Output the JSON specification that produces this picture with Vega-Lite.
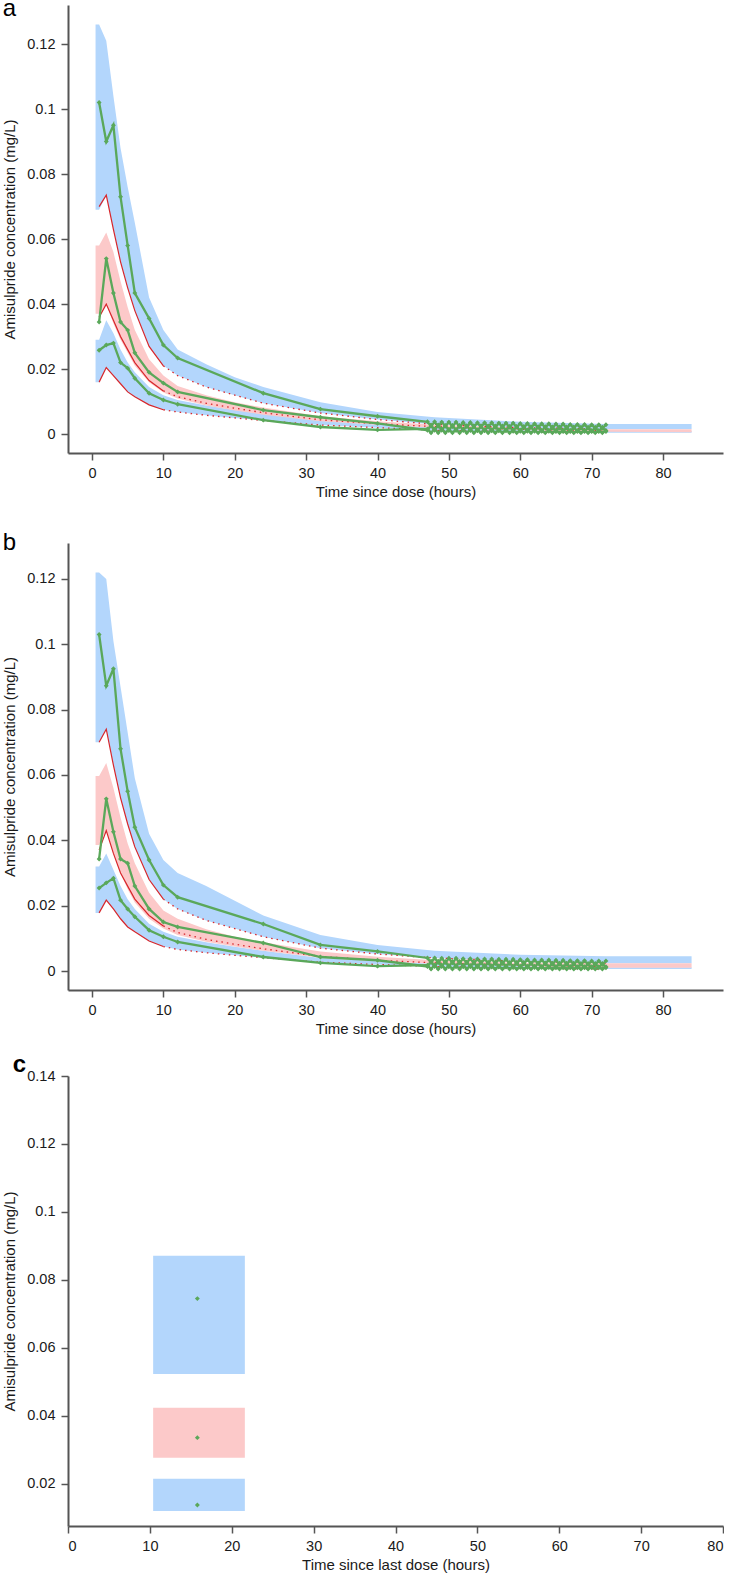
{
"$schema": "https://vega.github.io/schema/vega-lite/v6.json",
"background": "white",
"padding": {"left": 2, "top": -3, "right": 0, "bottom": 0},
"autosize": {"type": "pad"},
"config": {
  "view": {"stroke": null},
  "font": "Liberation Sans",
  "axis": {"grid": false, "domainColor": "#555555", "domainWidth": 2, "tickColor": "#555555", "tickWidth": 1.5, "tickSize": 7, "labelFont": "Liberation Sans", "labelFontSize": 14.5, "labelColor": "#1a1a1a", "labelPadding": 6, "titleFont": "Liberation Sans", "titleFontSize": 15, "titleFontWeight": "normal", "titleColor": "#1a1a1a"},
  "axisY": {"titlePadding": 9},
  "axisX": {"titlePadding": 5},
  "title": {"font": "Liberation Sans", "fontSize": 24, "fontWeight": "normal", "anchor": "start", "frame": "bounds", "color": "#000000"}
},
"datasets": {
  "bands_a": [
    {"t":0.5,"band":"upper","v":0.069,"v2":0.126},{"t":1,"band":"upper","v":0.069,"v2":0.126},{"t":2,"band":"upper","v":0.0735,"v2":0.121},{"t":3,"band":"upper","v":0.063,"v2":0.104},{"t":4,"band":"upper","v":0.053,"v2":0.088},{"t":5,"band":"upper","v":0.045,"v2":0.076},{"t":6,"band":"upper","v":0.038,"v2":0.065},{"t":8,"band":"upper","v":0.027,"v2":0.042},{"t":10,"band":"upper","v":0.021,"v2":0.032},{"t":12,"band":"upper","v":0.018,"v2":0.026},{"t":16,"band":"upper","v":0.0145,"v2":0.0215},{"t":20,"band":"upper","v":0.012,"v2":0.0175},{"t":24,"band":"upper","v":0.0095,"v2":0.0145},{"t":32,"band":"upper","v":0.0065,"v2":0.0098},{"t":40,"band":"upper","v":0.0045,"v2":0.0068},{"t":48,"band":"upper","v":0.003,"v2":0.0052},{"t":60,"band":"upper","v":0.002,"v2":0.0038},{"t":72,"band":"upper","v":0.0016,"v2":0.0031},{"t":84,"band":"upper","v":0.0016,"v2":0.0031},
    {"t":0.5,"band":"median","v":0.037,"v2":0.058},{"t":1,"band":"median","v":0.037,"v2":0.058},{"t":2,"band":"median","v":0.04,"v2":0.062},{"t":3,"band":"median","v":0.034,"v2":0.056},{"t":4,"band":"median","v":0.029,"v2":0.047},{"t":5,"band":"median","v":0.025,"v2":0.039},{"t":6,"band":"median","v":0.021,"v2":0.032},{"t":8,"band":"median","v":0.016,"v2":0.023},{"t":10,"band":"median","v":0.0128,"v2":0.018},{"t":12,"band":"median","v":0.011,"v2":0.0148},{"t":16,"band":"median","v":0.0088,"v2":0.012},{"t":20,"band":"median","v":0.0073,"v2":0.0098},{"t":24,"band":"median","v":0.006,"v2":0.0082},{"t":32,"band":"median","v":0.004,"v2":0.0055},{"t":40,"band":"median","v":0.0029,"v2":0.004},{"t":48,"band":"median","v":0.002,"v2":0.0029},{"t":60,"band":"median","v":0.0012,"v2":0.002},{"t":72,"band":"median","v":0.0007,"v2":0.0015},{"t":84,"band":"median","v":0.0006,"v2":0.0015},
    {"t":0.5,"band":"lower","v":0.016,"v2":0.029},{"t":1,"band":"lower","v":0.016,"v2":0.029},{"t":2,"band":"lower","v":0.0205,"v2":0.035},{"t":3,"band":"lower","v":0.018,"v2":0.031},{"t":4,"band":"lower","v":0.0155,"v2":0.026},{"t":5,"band":"lower","v":0.013,"v2":0.022},{"t":6,"band":"lower","v":0.0115,"v2":0.019},{"t":8,"band":"lower","v":0.009,"v2":0.0145},{"t":10,"band":"lower","v":0.0075,"v2":0.012},{"t":12,"band":"lower","v":0.0068,"v2":0.0105},{"t":16,"band":"lower","v":0.0058,"v2":0.0088},{"t":20,"band":"lower","v":0.005,"v2":0.0074},{"t":24,"band":"lower","v":0.0042,"v2":0.0062},{"t":32,"band":"lower","v":0.0028,"v2":0.0041},{"t":40,"band":"lower","v":0.002,"v2":0.003},{"t":48,"band":"lower","v":0.001,"v2":0.002},{"t":60,"band":"lower","v":0.0006,"v2":0.0014},{"t":72,"band":"lower","v":0.0004,"v2":0.001},{"t":84,"band":"lower","v":0.0004,"v2":0.001}
  ],
  "sim_a": [
    {"t":1,"pct":"p95","v":0.07},{"t":2,"pct":"p95","v":0.0735},{"t":3,"pct":"p95","v":0.063},{"t":4,"pct":"p95","v":0.053},{"t":5,"pct":"p95","v":0.045},{"t":6,"pct":"p95","v":0.038},{"t":8,"pct":"p95","v":0.027},{"t":10,"pct":"p95","v":0.021},{"t":12,"pct":"p95","v":0.018},{"t":16,"pct":"p95","v":0.0145},{"t":20,"pct":"p95","v":0.012},{"t":24,"pct":"p95","v":0.0095},{"t":32,"pct":"p95","v":0.0065},{"t":40,"pct":"p95","v":0.0045},{"t":48,"pct":"p95","v":0.003},{"t":60,"pct":"p95","v":0.002},{"t":72,"pct":"p95","v":0.0016},
    {"t":1,"pct":"p50","v":0.036},{"t":2,"pct":"p50","v":0.04},{"t":3,"pct":"p50","v":0.035},{"t":4,"pct":"p50","v":0.03},{"t":5,"pct":"p50","v":0.026},{"t":6,"pct":"p50","v":0.022},{"t":8,"pct":"p50","v":0.0165},{"t":10,"pct":"p50","v":0.0133},{"t":12,"pct":"p50","v":0.0115},{"t":16,"pct":"p50","v":0.0095},{"t":20,"pct":"p50","v":0.008},{"t":24,"pct":"p50","v":0.0066},{"t":32,"pct":"p50","v":0.0044},{"t":40,"pct":"p50","v":0.0032},{"t":48,"pct":"p50","v":0.0023},{"t":60,"pct":"p50","v":0.0015},{"t":72,"pct":"p50","v":0.0011},
    {"t":1,"pct":"p05","v":0.016},{"t":2,"pct":"p05","v":0.0205},{"t":3,"pct":"p05","v":0.018},{"t":4,"pct":"p05","v":0.0155},{"t":5,"pct":"p05","v":0.013},{"t":6,"pct":"p05","v":0.0115},{"t":8,"pct":"p05","v":0.009},{"t":10,"pct":"p05","v":0.0075},{"t":12,"pct":"p05","v":0.0068},{"t":16,"pct":"p05","v":0.0058},{"t":20,"pct":"p05","v":0.005},{"t":24,"pct":"p05","v":0.0042},{"t":32,"pct":"p05","v":0.0028},{"t":40,"pct":"p05","v":0.002},{"t":48,"pct":"p05","v":0.0012},{"t":60,"pct":"p05","v":0.0007},{"t":72,"pct":"p05","v":0.0005}
  ],
  "obs_a": [
    {"t":1,"pct":"p95","v":0.102},{"t":2,"pct":"p95","v":0.09},{"t":3,"pct":"p95","v":0.095},{"t":4,"pct":"p95","v":0.073},{"t":5,"pct":"p95","v":0.058},{"t":6,"pct":"p95","v":0.0434},{"t":8,"pct":"p95","v":0.0356},{"t":10,"pct":"p95","v":0.0274},{"t":12,"pct":"p95","v":0.0234},{"t":24,"pct":"p95","v":0.0126},{"t":32,"pct":"p95","v":0.0077},{"t":40,"pct":"p95","v":0.0055},
    {"t":47,"pct":"p95","v":0.0038},{"t":47.5,"pct":"p95","v":0.0024},{"t":48,"pct":"p95","v":0.0038},{"t":48.5,"pct":"p95","v":0.0024},{"t":49,"pct":"p95","v":0.0037},{"t":49.5,"pct":"p95","v":0.0024},{"t":50,"pct":"p95","v":0.0037},{"t":50.5,"pct":"p95","v":0.0023},{"t":51,"pct":"p95","v":0.0037},{"t":51.5,"pct":"p95","v":0.0023},{"t":52,"pct":"p95","v":0.0036},{"t":52.5,"pct":"p95","v":0.0023},{"t":53,"pct":"p95","v":0.0036},{"t":53.5,"pct":"p95","v":0.0022},{"t":54,"pct":"p95","v":0.0035},{"t":54.5,"pct":"p95","v":0.0022},{"t":55,"pct":"p95","v":0.0035},{"t":55.5,"pct":"p95","v":0.0022},{"t":56,"pct":"p95","v":0.0035},{"t":56.5,"pct":"p95","v":0.0021},{"t":57,"pct":"p95","v":0.0034},{"t":57.5,"pct":"p95","v":0.0021},{"t":58,"pct":"p95","v":0.0034},{"t":58.5,"pct":"p95","v":0.0021},{"t":59,"pct":"p95","v":0.0034},{"t":59.5,"pct":"p95","v":0.0021},{"t":60,"pct":"p95","v":0.0033},{"t":60.5,"pct":"p95","v":0.002},{"t":61,"pct":"p95","v":0.0033},{"t":61.5,"pct":"p95","v":0.002},{"t":62,"pct":"p95","v":0.0032},{"t":62.5,"pct":"p95","v":0.002},{"t":63,"pct":"p95","v":0.0032},{"t":63.5,"pct":"p95","v":0.002},{"t":64,"pct":"p95","v":0.0032},{"t":64.5,"pct":"p95","v":0.0019},{"t":65,"pct":"p95","v":0.0031},{"t":65.5,"pct":"p95","v":0.0019},{"t":66,"pct":"p95","v":0.0031},{"t":66.5,"pct":"p95","v":0.0019},{"t":67,"pct":"p95","v":0.003},{"t":67.5,"pct":"p95","v":0.0019},{"t":68,"pct":"p95","v":0.003},{"t":68.5,"pct":"p95","v":0.0018},{"t":69,"pct":"p95","v":0.003},{"t":69.5,"pct":"p95","v":0.0018},{"t":70,"pct":"p95","v":0.0029},{"t":70.5,"pct":"p95","v":0.0018},{"t":71,"pct":"p95","v":0.0029},{"t":71.5,"pct":"p95","v":0.0018},{"t":72,"pct":"p95","v":0.0029},
    {"t":1,"pct":"p50","v":0.0345},{"t":2,"pct":"p50","v":0.054},{"t":3,"pct":"p50","v":0.0434},{"t":4,"pct":"p50","v":0.0345},{"t":5,"pct":"p50","v":0.032},{"t":6,"pct":"p50","v":0.025},{"t":8,"pct":"p50","v":0.019},{"t":10,"pct":"p50","v":0.0157},{"t":12,"pct":"p50","v":0.013},{"t":24,"pct":"p50","v":0.0074},{"t":32,"pct":"p50","v":0.0052},{"t":40,"pct":"p50","v":0.0033},
    {"t":47,"pct":"p50","v":0.0012},{"t":47.5,"pct":"p50","v":0.0028},{"t":48,"pct":"p50","v":0.0012},{"t":48.5,"pct":"p50","v":0.0028},{"t":49,"pct":"p50","v":0.0012},{"t":49.5,"pct":"p50","v":0.0027},{"t":50,"pct":"p50","v":0.0011},{"t":50.5,"pct":"p50","v":0.0027},{"t":51,"pct":"p50","v":0.0011},{"t":51.5,"pct":"p50","v":0.0027},{"t":52,"pct":"p50","v":0.0011},{"t":52.5,"pct":"p50","v":0.0026},{"t":53,"pct":"p50","v":0.0011},{"t":53.5,"pct":"p50","v":0.0026},{"t":54,"pct":"p50","v":0.001},{"t":54.5,"pct":"p50","v":0.0026},{"t":55,"pct":"p50","v":0.001},{"t":55.5,"pct":"p50","v":0.0025},{"t":56,"pct":"p50","v":0.001},{"t":56.5,"pct":"p50","v":0.0025},{"t":57,"pct":"p50","v":0.001},{"t":57.5,"pct":"p50","v":0.0025},{"t":58,"pct":"p50","v":0.001},{"t":58.5,"pct":"p50","v":0.0024},{"t":59,"pct":"p50","v":0.0009},{"t":59.5,"pct":"p50","v":0.0024},{"t":60,"pct":"p50","v":0.0009},{"t":60.5,"pct":"p50","v":0.0024},{"t":61,"pct":"p50","v":0.0009},{"t":61.5,"pct":"p50","v":0.0023},{"t":62,"pct":"p50","v":0.0009},{"t":62.5,"pct":"p50","v":0.0023},{"t":63,"pct":"p50","v":0.0009},{"t":63.5,"pct":"p50","v":0.0023},{"t":64,"pct":"p50","v":0.0009},{"t":64.5,"pct":"p50","v":0.0022},{"t":65,"pct":"p50","v":0.0008},{"t":65.5,"pct":"p50","v":0.0022},{"t":66,"pct":"p50","v":0.0008},{"t":66.5,"pct":"p50","v":0.0022},{"t":67,"pct":"p50","v":0.0008},{"t":67.5,"pct":"p50","v":0.0022},{"t":68,"pct":"p50","v":0.0008},{"t":68.5,"pct":"p50","v":0.0021},{"t":69,"pct":"p50","v":0.0008},{"t":69.5,"pct":"p50","v":0.0021},{"t":70,"pct":"p50","v":0.0008},{"t":70.5,"pct":"p50","v":0.0021},{"t":71,"pct":"p50","v":0.0008},{"t":71.5,"pct":"p50","v":0.0021},{"t":72,"pct":"p50","v":0.0008},
    {"t":1,"pct":"p05","v":0.0258},{"t":2,"pct":"p05","v":0.0274},{"t":3,"pct":"p05","v":0.028},{"t":4,"pct":"p05","v":0.022},{"t":5,"pct":"p05","v":0.0203},{"t":6,"pct":"p05","v":0.0172},{"t":8,"pct":"p05","v":0.0126},{"t":10,"pct":"p05","v":0.0105},{"t":12,"pct":"p05","v":0.0092},{"t":24,"pct":"p05","v":0.0043},{"t":32,"pct":"p05","v":0.0022},{"t":40,"pct":"p05","v":0.0013},
    {"t":47,"pct":"p05","v":0.0016},{"t":47.5,"pct":"p05","v":0.0004},{"t":48,"pct":"p05","v":0.0016},{"t":48.5,"pct":"p05","v":0.0004},{"t":49,"pct":"p05","v":0.0016},{"t":49.5,"pct":"p05","v":0.0004},{"t":50,"pct":"p05","v":0.0015},{"t":50.5,"pct":"p05","v":0.0004},{"t":51,"pct":"p05","v":0.0015},{"t":51.5,"pct":"p05","v":0.0004},{"t":52,"pct":"p05","v":0.0015},{"t":52.5,"pct":"p05","v":0.0004},{"t":53,"pct":"p05","v":0.0015},{"t":53.5,"pct":"p05","v":0.0004},{"t":54,"pct":"p05","v":0.0014},{"t":54.5,"pct":"p05","v":0.0004},{"t":55,"pct":"p05","v":0.0014},{"t":55.5,"pct":"p05","v":0.0004},{"t":56,"pct":"p05","v":0.0014},{"t":56.5,"pct":"p05","v":0.0004},{"t":57,"pct":"p05","v":0.0014},{"t":57.5,"pct":"p05","v":0.0004},{"t":58,"pct":"p05","v":0.0014},{"t":58.5,"pct":"p05","v":0.0004},{"t":59,"pct":"p05","v":0.0013},{"t":59.5,"pct":"p05","v":0.0004},{"t":60,"pct":"p05","v":0.0013},{"t":60.5,"pct":"p05","v":0.0004},{"t":61,"pct":"p05","v":0.0013},{"t":61.5,"pct":"p05","v":0.0004},{"t":62,"pct":"p05","v":0.0013},{"t":62.5,"pct":"p05","v":0.0004},{"t":63,"pct":"p05","v":0.0012},{"t":63.5,"pct":"p05","v":0.0004},{"t":64,"pct":"p05","v":0.0012},{"t":64.5,"pct":"p05","v":0.0004},{"t":65,"pct":"p05","v":0.0012},{"t":65.5,"pct":"p05","v":0.0004},{"t":66,"pct":"p05","v":0.0012},{"t":66.5,"pct":"p05","v":0.0004},{"t":67,"pct":"p05","v":0.0012},{"t":67.5,"pct":"p05","v":0.0004},{"t":68,"pct":"p05","v":0.0011},{"t":68.5,"pct":"p05","v":0.0004},{"t":69,"pct":"p05","v":0.0011},{"t":69.5,"pct":"p05","v":0.0004},{"t":70,"pct":"p05","v":0.0011},{"t":70.5,"pct":"p05","v":0.0004},{"t":71,"pct":"p05","v":0.0011},{"t":71.5,"pct":"p05","v":0.0004},{"t":72,"pct":"p05","v":0.0011}
  ],
  "bands_b": [
    {"t":0.5,"band":"upper","v":0.07,"v2":0.122},{"t":1,"band":"upper","v":0.07,"v2":0.122},{"t":2,"band":"upper","v":0.074,"v2":0.12},{"t":3,"band":"upper","v":0.063,"v2":0.101},{"t":4,"band":"upper","v":0.053,"v2":0.087},{"t":5,"band":"upper","v":0.045,"v2":0.073},{"t":6,"band":"upper","v":0.038,"v2":0.059},{"t":8,"band":"upper","v":0.028,"v2":0.042},{"t":10,"band":"upper","v":0.022,"v2":0.034},{"t":12,"band":"upper","v":0.019,"v2":0.03},{"t":16,"band":"upper","v":0.0155,"v2":0.026},{"t":20,"band":"upper","v":0.013,"v2":0.0215},{"t":24,"band":"upper","v":0.0105,"v2":0.017},{"t":32,"band":"upper","v":0.007,"v2":0.011},{"t":40,"band":"upper","v":0.0052,"v2":0.008},{"t":48,"band":"upper","v":0.004,"v2":0.0062},{"t":60,"band":"upper","v":0.003,"v2":0.005},{"t":72,"band":"upper","v":0.0024,"v2":0.0045},{"t":84,"band":"upper","v":0.0024,"v2":0.0045},
    {"t":0.5,"band":"median","v":0.0386,"v2":0.0597},{"t":1,"band":"median","v":0.0386,"v2":0.0597},{"t":2,"band":"median","v":0.043,"v2":0.0637},{"t":3,"band":"median","v":0.036,"v2":0.056},{"t":4,"band":"median","v":0.03,"v2":0.047},{"t":5,"band":"median","v":0.025,"v2":0.039},{"t":6,"band":"median","v":0.021,"v2":0.033},{"t":8,"band":"median","v":0.016,"v2":0.024},{"t":10,"band":"median","v":0.013,"v2":0.0185},{"t":12,"band":"median","v":0.011,"v2":0.016},{"t":16,"band":"median","v":0.009,"v2":0.0128},{"t":20,"band":"median","v":0.0075,"v2":0.0105},{"t":24,"band":"median","v":0.0062,"v2":0.0088},{"t":32,"band":"median","v":0.0041,"v2":0.006},{"t":40,"band":"median","v":0.003,"v2":0.0044},{"t":48,"band":"median","v":0.0022,"v2":0.0033},{"t":60,"band":"median","v":0.0015,"v2":0.0025},{"t":72,"band":"median","v":0.001,"v2":0.0024},{"t":84,"band":"median","v":0.001,"v2":0.0024},
    {"t":0.5,"band":"lower","v":0.0178,"v2":0.032},{"t":1,"band":"lower","v":0.0178,"v2":0.032},{"t":2,"band":"lower","v":0.0217,"v2":0.036},{"t":3,"band":"lower","v":0.019,"v2":0.031},{"t":4,"band":"lower","v":0.016,"v2":0.026},{"t":5,"band":"lower","v":0.0135,"v2":0.022},{"t":6,"band":"lower","v":0.012,"v2":0.019},{"t":8,"band":"lower","v":0.0092,"v2":0.0145},{"t":10,"band":"lower","v":0.0075,"v2":0.012},{"t":12,"band":"lower","v":0.0066,"v2":0.0105},{"t":16,"band":"lower","v":0.0056,"v2":0.0088},{"t":20,"band":"lower","v":0.0048,"v2":0.0074},{"t":24,"band":"lower","v":0.0041,"v2":0.0062},{"t":32,"band":"lower","v":0.0027,"v2":0.004},{"t":40,"band":"lower","v":0.002,"v2":0.003},{"t":48,"band":"lower","v":0.0014,"v2":0.0022},{"t":60,"band":"lower","v":0.0009,"v2":0.0016},{"t":72,"band":"lower","v":0.0006,"v2":0.0012},{"t":84,"band":"lower","v":0.0006,"v2":0.0012}
  ],
  "sim_b": [
    {"t":1,"pct":"p95","v":0.07},{"t":2,"pct":"p95","v":0.074},{"t":3,"pct":"p95","v":0.063},{"t":4,"pct":"p95","v":0.053},{"t":5,"pct":"p95","v":0.045},{"t":6,"pct":"p95","v":0.038},{"t":8,"pct":"p95","v":0.028},{"t":10,"pct":"p95","v":0.022},{"t":12,"pct":"p95","v":0.019},{"t":16,"pct":"p95","v":0.0155},{"t":20,"pct":"p95","v":0.013},{"t":24,"pct":"p95","v":0.0105},{"t":32,"pct":"p95","v":0.007},{"t":40,"pct":"p95","v":0.0052},{"t":48,"pct":"p95","v":0.004},{"t":60,"pct":"p95","v":0.003},{"t":72,"pct":"p95","v":0.0024},
    {"t":1,"pct":"p50","v":0.037},{"t":2,"pct":"p50","v":0.043},{"t":3,"pct":"p50","v":0.036},{"t":4,"pct":"p50","v":0.03},{"t":5,"pct":"p50","v":0.026},{"t":6,"pct":"p50","v":0.022},{"t":8,"pct":"p50","v":0.017},{"t":10,"pct":"p50","v":0.0138},{"t":12,"pct":"p50","v":0.0118},{"t":16,"pct":"p50","v":0.0097},{"t":20,"pct":"p50","v":0.0082},{"t":24,"pct":"p50","v":0.0068},{"t":32,"pct":"p50","v":0.0045},{"t":40,"pct":"p50","v":0.0033},{"t":48,"pct":"p50","v":0.0025},{"t":60,"pct":"p50","v":0.0018},{"t":72,"pct":"p50","v":0.0014},
    {"t":1,"pct":"p05","v":0.0178},{"t":2,"pct":"p05","v":0.0217},{"t":3,"pct":"p05","v":0.019},{"t":4,"pct":"p05","v":0.016},{"t":5,"pct":"p05","v":0.0135},{"t":6,"pct":"p05","v":0.012},{"t":8,"pct":"p05","v":0.0092},{"t":10,"pct":"p05","v":0.0075},{"t":12,"pct":"p05","v":0.0066},{"t":16,"pct":"p05","v":0.0056},{"t":20,"pct":"p05","v":0.0048},{"t":24,"pct":"p05","v":0.0041},{"t":32,"pct":"p05","v":0.0027},{"t":40,"pct":"p05","v":0.002},{"t":48,"pct":"p05","v":0.0014},{"t":60,"pct":"p05","v":0.0009},{"t":72,"pct":"p05","v":0.0006}
  ],
  "obs_b": [
    {"t":1,"pct":"p95","v":0.103},{"t":2,"pct":"p95","v":0.0873},{"t":3,"pct":"p95","v":0.0925},{"t":4,"pct":"p95","v":0.068},{"t":5,"pct":"p95","v":0.055},{"t":6,"pct":"p95","v":0.044},{"t":8,"pct":"p95","v":0.034},{"t":10,"pct":"p95","v":0.0263},{"t":12,"pct":"p95","v":0.0226},{"t":24,"pct":"p95","v":0.0144},{"t":32,"pct":"p95","v":0.008},{"t":40,"pct":"p95","v":0.006},
    {"t":47,"pct":"p95","v":0.004},{"t":47.5,"pct":"p95","v":0.0026},{"t":48,"pct":"p95","v":0.004},{"t":48.5,"pct":"p95","v":0.0026},{"t":49,"pct":"p95","v":0.0039},{"t":49.5,"pct":"p95","v":0.0026},{"t":50,"pct":"p95","v":0.0039},{"t":50.5,"pct":"p95","v":0.0025},{"t":51,"pct":"p95","v":0.0039},{"t":51.5,"pct":"p95","v":0.0025},{"t":52,"pct":"p95","v":0.0038},{"t":52.5,"pct":"p95","v":0.0025},{"t":53,"pct":"p95","v":0.0038},{"t":53.5,"pct":"p95","v":0.0024},{"t":54,"pct":"p95","v":0.0037},{"t":54.5,"pct":"p95","v":0.0024},{"t":55,"pct":"p95","v":0.0037},{"t":55.5,"pct":"p95","v":0.0024},{"t":56,"pct":"p95","v":0.0037},{"t":56.5,"pct":"p95","v":0.0023},{"t":57,"pct":"p95","v":0.0036},{"t":57.5,"pct":"p95","v":0.0023},{"t":58,"pct":"p95","v":0.0036},{"t":58.5,"pct":"p95","v":0.0023},{"t":59,"pct":"p95","v":0.0036},{"t":59.5,"pct":"p95","v":0.0023},{"t":60,"pct":"p95","v":0.0035},{"t":60.5,"pct":"p95","v":0.0022},{"t":61,"pct":"p95","v":0.0035},{"t":61.5,"pct":"p95","v":0.0022},{"t":62,"pct":"p95","v":0.0034},{"t":62.5,"pct":"p95","v":0.0022},{"t":63,"pct":"p95","v":0.0034},{"t":63.5,"pct":"p95","v":0.0022},{"t":64,"pct":"p95","v":0.0034},{"t":64.5,"pct":"p95","v":0.0021},{"t":65,"pct":"p95","v":0.0033},{"t":65.5,"pct":"p95","v":0.0021},{"t":66,"pct":"p95","v":0.0033},{"t":66.5,"pct":"p95","v":0.0021},{"t":67,"pct":"p95","v":0.0032},{"t":67.5,"pct":"p95","v":0.0021},{"t":68,"pct":"p95","v":0.0032},{"t":68.5,"pct":"p95","v":0.002},{"t":69,"pct":"p95","v":0.0032},{"t":69.5,"pct":"p95","v":0.002},{"t":70,"pct":"p95","v":0.0031},{"t":70.5,"pct":"p95","v":0.002},{"t":71,"pct":"p95","v":0.0031},{"t":71.5,"pct":"p95","v":0.002},{"t":72,"pct":"p95","v":0.0031},
    {"t":1,"pct":"p50","v":0.0343},{"t":2,"pct":"p50","v":0.0527},{"t":3,"pct":"p50","v":0.0426},{"t":4,"pct":"p50","v":0.0343},{"t":5,"pct":"p50","v":0.033},{"t":6,"pct":"p50","v":0.026},{"t":8,"pct":"p50","v":0.019},{"t":10,"pct":"p50","v":0.015},{"t":12,"pct":"p50","v":0.0135},{"t":24,"pct":"p50","v":0.0086},{"t":32,"pct":"p50","v":0.0043},{"t":40,"pct":"p50","v":0.0033},
    {"t":47,"pct":"p50","v":0.0014},{"t":47.5,"pct":"p50","v":0.003},{"t":48,"pct":"p50","v":0.0014},{"t":48.5,"pct":"p50","v":0.003},{"t":49,"pct":"p50","v":0.0014},{"t":49.5,"pct":"p50","v":0.0029},{"t":50,"pct":"p50","v":0.0013},{"t":50.5,"pct":"p50","v":0.0029},{"t":51,"pct":"p50","v":0.0013},{"t":51.5,"pct":"p50","v":0.0029},{"t":52,"pct":"p50","v":0.0013},{"t":52.5,"pct":"p50","v":0.0028},{"t":53,"pct":"p50","v":0.0013},{"t":53.5,"pct":"p50","v":0.0028},{"t":54,"pct":"p50","v":0.0012},{"t":54.5,"pct":"p50","v":0.0028},{"t":55,"pct":"p50","v":0.0012},{"t":55.5,"pct":"p50","v":0.0027},{"t":56,"pct":"p50","v":0.0012},{"t":56.5,"pct":"p50","v":0.0027},{"t":57,"pct":"p50","v":0.0012},{"t":57.5,"pct":"p50","v":0.0027},{"t":58,"pct":"p50","v":0.0012},{"t":58.5,"pct":"p50","v":0.0026},{"t":59,"pct":"p50","v":0.0011},{"t":59.5,"pct":"p50","v":0.0026},{"t":60,"pct":"p50","v":0.0011},{"t":60.5,"pct":"p50","v":0.0026},{"t":61,"pct":"p50","v":0.0011},{"t":61.5,"pct":"p50","v":0.0025},{"t":62,"pct":"p50","v":0.0011},{"t":62.5,"pct":"p50","v":0.0025},{"t":63,"pct":"p50","v":0.0011},{"t":63.5,"pct":"p50","v":0.0025},{"t":64,"pct":"p50","v":0.0011},{"t":64.5,"pct":"p50","v":0.0024},{"t":65,"pct":"p50","v":0.001},{"t":65.5,"pct":"p50","v":0.0024},{"t":66,"pct":"p50","v":0.001},{"t":66.5,"pct":"p50","v":0.0024},{"t":67,"pct":"p50","v":0.001},{"t":67.5,"pct":"p50","v":0.0024},{"t":68,"pct":"p50","v":0.001},{"t":68.5,"pct":"p50","v":0.0023},{"t":69,"pct":"p50","v":0.001},{"t":69.5,"pct":"p50","v":0.0023},{"t":70,"pct":"p50","v":0.001},{"t":70.5,"pct":"p50","v":0.0023},{"t":71,"pct":"p50","v":0.001},{"t":71.5,"pct":"p50","v":0.0023},{"t":72,"pct":"p50","v":0.001},
    {"t":1,"pct":"p05","v":0.0254},{"t":2,"pct":"p05","v":0.027},{"t":3,"pct":"p05","v":0.0284},{"t":4,"pct":"p05","v":0.0217},{"t":5,"pct":"p05","v":0.019},{"t":6,"pct":"p05","v":0.0166},{"t":8,"pct":"p05","v":0.0125},{"t":10,"pct":"p05","v":0.0105},{"t":12,"pct":"p05","v":0.0089},{"t":24,"pct":"p05","v":0.0043},{"t":32,"pct":"p05","v":0.0025},{"t":40,"pct":"p05","v":0.0015},
    {"t":47,"pct":"p05","v":0.0018},{"t":47.5,"pct":"p05","v":0.0006},{"t":48,"pct":"p05","v":0.0018},{"t":48.5,"pct":"p05","v":0.0006},{"t":49,"pct":"p05","v":0.0018},{"t":49.5,"pct":"p05","v":0.0006},{"t":50,"pct":"p05","v":0.0017},{"t":50.5,"pct":"p05","v":0.0006},{"t":51,"pct":"p05","v":0.0017},{"t":51.5,"pct":"p05","v":0.0006},{"t":52,"pct":"p05","v":0.0017},{"t":52.5,"pct":"p05","v":0.0006},{"t":53,"pct":"p05","v":0.0017},{"t":53.5,"pct":"p05","v":0.0006},{"t":54,"pct":"p05","v":0.0016},{"t":54.5,"pct":"p05","v":0.0006},{"t":55,"pct":"p05","v":0.0016},{"t":55.5,"pct":"p05","v":0.0006},{"t":56,"pct":"p05","v":0.0016},{"t":56.5,"pct":"p05","v":0.0006},{"t":57,"pct":"p05","v":0.0016},{"t":57.5,"pct":"p05","v":0.0006},{"t":58,"pct":"p05","v":0.0016},{"t":58.5,"pct":"p05","v":0.0006},{"t":59,"pct":"p05","v":0.0015},{"t":59.5,"pct":"p05","v":0.0006},{"t":60,"pct":"p05","v":0.0015},{"t":60.5,"pct":"p05","v":0.0006},{"t":61,"pct":"p05","v":0.0015},{"t":61.5,"pct":"p05","v":0.0006},{"t":62,"pct":"p05","v":0.0015},{"t":62.5,"pct":"p05","v":0.0006},{"t":63,"pct":"p05","v":0.0014},{"t":63.5,"pct":"p05","v":0.0006},{"t":64,"pct":"p05","v":0.0014},{"t":64.5,"pct":"p05","v":0.0006},{"t":65,"pct":"p05","v":0.0014},{"t":65.5,"pct":"p05","v":0.0006},{"t":66,"pct":"p05","v":0.0014},{"t":66.5,"pct":"p05","v":0.0006},{"t":67,"pct":"p05","v":0.0014},{"t":67.5,"pct":"p05","v":0.0006},{"t":68,"pct":"p05","v":0.0013},{"t":68.5,"pct":"p05","v":0.0006},{"t":69,"pct":"p05","v":0.0013},{"t":69.5,"pct":"p05","v":0.0006},{"t":70,"pct":"p05","v":0.0013},{"t":70.5,"pct":"p05","v":0.0006},{"t":71,"pct":"p05","v":0.0013},{"t":71.5,"pct":"p05","v":0.0006},{"t":72,"pct":"p05","v":0.0013}
  ],
  "bands_c": [
    {"t":10.4,"t2":21.6,"band":"upper","v":0.0523,"v2":0.0871},
    {"t":10.4,"t2":21.6,"band":"median","v":0.0277,"v2":0.0424},
    {"t":10.4,"t2":21.6,"band":"lower","v":0.012,"v2":0.0215}
  ],
  "obs_c": [
    {"t":15.8,"pct":"p95","v":0.0745},
    {"t":15.8,"pct":"p50","v":0.0336},
    {"t":15.8,"pct":"p05","v":0.0138}
  ]
},
"spacing": 31,
"vconcat": [
  {
    "width": 655, "height": 448,
    "title": {"text": "a", "dy": 20},
    "encoding": {
      "x": {"field": "t", "type": "quantitative", "scale": {"domain": [-3.36, 88.4], "nice": false, "zero": false}, "axis": {"values": [0,10,20,30,40,50,60,70,80], "title": "Time since dose (hours)"}},
      "y": {"field": "v", "type": "quantitative", "scale": {"domain": [-0.0058, 0.132], "nice": false, "zero": false}, "axis": {"values": [0,0.02,0.04,0.06,0.08,0.1,0.12], "format": "~g", "title": "Amisulpride concentration (mg/L)"}}
    },
    "layer": [
      {"data": {"name": "bands_a"}, "transform": [{"filter": "datum.band !== 'median'"}], "mark": {"type": "area", "color": "#b3d6fc", "opacity": 1}, "encoding": {"y2": {"field": "v2"}, "detail": {"field": "band"}}},
      {"data": {"name": "bands_a"}, "transform": [{"filter": "datum.band === 'median'"}], "mark": {"type": "area", "color": "#fcc9c9", "opacity": 1}, "encoding": {"y2": {"field": "v2"}}},
      {"data": {"name": "sim_a"}, "transform": [{"filter": "datum.t <= 10"}], "mark": {"type": "line", "color": "#d8262b", "strokeWidth": 1.2}, "encoding": {"detail": {"field": "pct"}}},
      {"data": {"name": "sim_a"}, "transform": [{"filter": "datum.t >= 10"}], "mark": {"type": "line", "color": "#d8262b", "strokeWidth": 1.3, "strokeDash": [1.5, 4]}, "encoding": {"detail": {"field": "pct"}}},
      {"data": {"name": "obs_a"}, "mark": {"type": "line", "color": "#5aa85a", "strokeWidth": 2.3, "point": {"shape": "diamond", "size": 24, "filled": true, "color": "#5aa85a"}}, "encoding": {"detail": {"field": "pct"}}}
    ]
  },
  {
    "spacing": 16,
    "vconcat": [
      {
        "width": 655, "height": 447,
        "title": {"text": "b", "dy": 16},
        "encoding": {
          "x": {"field": "t", "type": "quantitative", "scale": {"domain": [-3.36, 88.4], "nice": false, "zero": false}, "axis": {"values": [0,10,20,30,40,50,60,70,80], "title": "Time since dose (hours)"}},
          "y": {"field": "v", "type": "quantitative", "scale": {"domain": [-0.0058, 0.131], "nice": false, "zero": false}, "axis": {"values": [0,0.02,0.04,0.06,0.08,0.1,0.12], "format": "~g", "title": "Amisulpride concentration (mg/L)"}}
        },
        "layer": [
          {"data": {"name": "bands_b"}, "transform": [{"filter": "datum.band !== 'median'"}], "mark": {"type": "area", "color": "#b3d6fc", "opacity": 1}, "encoding": {"y2": {"field": "v2"}, "detail": {"field": "band"}}},
          {"data": {"name": "bands_b"}, "transform": [{"filter": "datum.band === 'median'"}], "mark": {"type": "area", "color": "#fcc9c9", "opacity": 1}, "encoding": {"y2": {"field": "v2"}}},
          {"data": {"name": "sim_b"}, "transform": [{"filter": "datum.t <= 10"}], "mark": {"type": "line", "color": "#d8262b", "strokeWidth": 1.2}, "encoding": {"detail": {"field": "pct"}}},
          {"data": {"name": "sim_b"}, "transform": [{"filter": "datum.t >= 10"}], "mark": {"type": "line", "color": "#d8262b", "strokeWidth": 1.3, "strokeDash": [1.5, 4]}, "encoding": {"detail": {"field": "pct"}}},
          {"data": {"name": "obs_b"}, "mark": {"type": "line", "color": "#5aa85a", "strokeWidth": 2.3, "point": {"shape": "diamond", "size": 24, "filled": true, "color": "#5aa85a"}}, "encoding": {"detail": {"field": "pct"}}}
        ]
      },
      {
        "width": 655, "height": 450,
        "title": {"text": "c", "dy": 13, "dx": 10, "fontWeight": "bold"},
        "encoding": {
          "x": {"field": "t", "type": "quantitative", "scale": {"domain": [0, 80], "nice": false, "zero": false}, "axis": {"values": [0,10,20,30,40,50,60,70,80], "title": "Time since last dose (hours)"}},
          "y": {"field": "v", "type": "quantitative", "scale": {"domain": [0.0076, 0.14], "nice": false, "zero": false}, "axis": {"values": [0.02,0.04,0.06,0.08,0.1,0.12,0.14], "format": "~g", "title": "Amisulpride concentration (mg/L)"}}
        },
        "layer": [
          {"data": {"name": "bands_c"}, "mark": {"type": "rect"}, "encoding": {"x2": {"field": "t2"}, "y2": {"field": "v2"}, "color": {"field": "band", "type": "nominal", "scale": {"domain": ["upper", "median", "lower"], "range": ["#b3d6fc", "#fcc9c9", "#b3d6fc"]}, "legend": null}}},
          {"data": {"name": "obs_c"}, "mark": {"type": "point", "shape": "diamond", "size": 24, "filled": true, "color": "#5aa85a", "opacity": 1}}
        ]
      }
    ]
  }
]
}
